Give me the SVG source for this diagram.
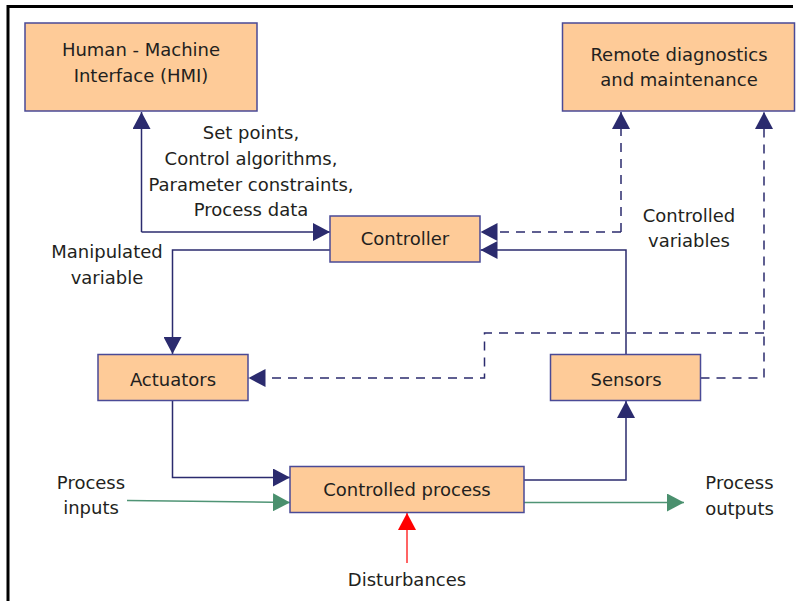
<svg xmlns="http://www.w3.org/2000/svg" width="800" height="601" viewBox="0 0 800 601">
<defs>
<style>
.box{fill:#fecb98;stroke:#4a4a96;stroke-width:1.5}
.t{font-family:"DejaVu Sans","Liberation Sans",sans-serif;font-size:18px;fill:#231f20;text-anchor:middle}
.c{fill:none;stroke:#2b2b6e;stroke-width:1.5}
.d{fill:none;stroke:#2b2b6e;stroke-width:1.5;stroke-dasharray:9 7}
.g{fill:none;stroke:#4f9475;stroke-width:1.5}
.r{fill:none;stroke:#ff3030;stroke-width:1.5}
</style>
<marker id="an" viewBox="0 0 17 18" refX="17" refY="9" markerWidth="17" markerHeight="18" markerUnits="userSpaceOnUse" orient="auto"><path d="M0,0 L17,9 L0,18 Z" fill="#2b2b6e"/></marker>
<marker id="ag" viewBox="0 0 17 18" refX="17" refY="9" markerWidth="17" markerHeight="18" markerUnits="userSpaceOnUse" orient="auto"><path d="M0,0 L17,9 L0,18 Z" fill="#4a906e"/></marker>
<marker id="ar" viewBox="0 0 17 18" refX="17" refY="9" markerWidth="17" markerHeight="18" markerUnits="userSpaceOnUse" orient="auto"><path d="M0,0 L17,9 L0,18 Z" fill="#ff0000"/></marker>
</defs>
<rect width="800" height="601" fill="#ffffff"/>
<path d="M8,601 V6.5 H793" fill="none" stroke="#000" stroke-width="3"/>

<g id="connectors">
<path class="c" d="M141.5,232 V112" marker-end="url(#an)"/>
<path class="c" d="M141.5,232 H330" marker-end="url(#an)"/>
<path class="c" d="M330,250 H172.5 V354" marker-end="url(#an)"/>
<path class="c" d="M626,354 V250 H480.5" marker-end="url(#an)"/>
<path class="d" d="M621,232 V112" marker-end="url(#an)"/>
<path class="d" d="M621,232 H480.5" marker-end="url(#an)"/>
<path class="d" d="M700.5,378 H764 V112" marker-end="url(#an)"/>
<path class="d" d="M764,333 H484.5 V378 H248.5" marker-end="url(#an)"/>
<path class="c" d="M172.5,400.5 V477.5 H290" marker-end="url(#an)"/>
<path class="c" d="M524,480 H626 V401" marker-end="url(#an)"/>
<path class="g" d="M127,500.5 L290,502.5" marker-end="url(#ag)"/>
<path class="g" d="M524,502.5 H684" marker-end="url(#ag)"/>
<path class="r" d="M407,563 V513" marker-end="url(#ar)"/>
</g>

<g id="hmi">
<rect class="box" x="25" y="23" width="232" height="88"/>
<text class="t" x="141" y="56">Human - Machine</text>
<text class="t" x="141" y="82">Interface (HMI)</text>
</g>
<g id="remote">
<rect class="box" x="562.5" y="23" width="232" height="88"/>
<text class="t" x="679" y="61">Remote diagnostics</text>
<text class="t" x="679" y="86">and maintenance</text>
</g>
<g id="controller">
<rect class="box" x="330" y="216" width="150" height="46"/>
<text class="t" x="405" y="245">Controller</text>
</g>
<g id="actuators">
<rect class="box" x="98" y="354.5" width="150" height="46"/>
<text class="t" x="173" y="386">Actuators</text>
</g>
<g id="sensors">
<rect class="box" x="550.5" y="354.5" width="150" height="46"/>
<text class="t" x="626" y="386">Sensors</text>
</g>
<g id="process">
<rect class="box" x="290" y="466.5" width="234" height="46"/>
<text class="t" x="407" y="496">Controlled process</text>
</g>

<g id="labels">
<text class="t" x="251" y="139">Set points,</text>
<text class="t" x="251" y="165">Control algorithms,</text>
<text class="t" x="251" y="190.5">Parameter constraints,</text>
<text class="t" x="251" y="216">Process data</text>
<text class="t" x="107" y="258">Manipulated</text>
<text class="t" x="107" y="284">variable</text>
<text class="t" x="689" y="222">Controlled</text>
<text class="t" x="689" y="247">variables</text>
<text class="t" x="91" y="489">Process</text>
<text class="t" x="91" y="514">inputs</text>
<text class="t" x="739.5" y="489">Process</text>
<text class="t" x="739.5" y="515">outputs</text>
<text class="t" x="407" y="586">Disturbances</text>
</g>
</svg>
